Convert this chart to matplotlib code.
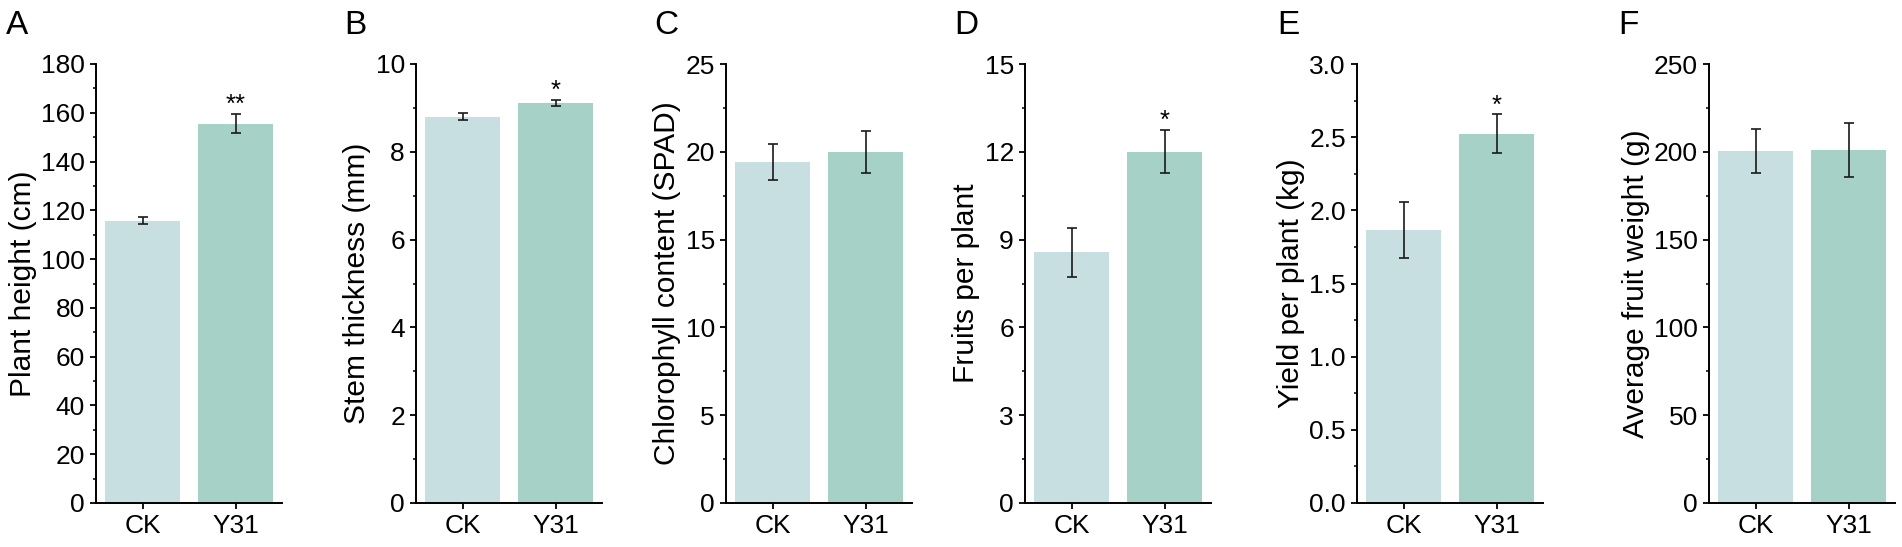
import matplotlib
matplotlib.use("Agg")
import matplotlib.pyplot as plt
from matplotlib.ticker import AutoMinorLocator

plt.rcParams['font.family'] = ['Liberation Sans', 'DejaVu Sans']

groups = ["CK", "Y31"]
colors = ["#C8DFE1", "#A5D1C6"]

panel_letters = ["A", "B", "C", "D", "E", "F"]
ylabels = ["Plant height (cm)", "Stem thickness (mm)", "Chlorophyll content (SPAD)",
           "Fruits per plant", "Yield per plant (kg)", "Average fruit weight (g)"]
ymax = [180, 10, 25, 15, 3.0, 250]
ystep = [20, 2, 5, 3, 0.5, 50]
ytick_fmt = ["{:.0f}", "{:.0f}", "{:.0f}", "{:.0f}", "{:.1f}", "{:.0f}"]

plant_height = [115.8, 155.6]
plant_height_err = [1.4, 4.0]
stem_thickness = [8.80, 9.11]
stem_thickness_err = [0.08, 0.06]
chlorophyll = [19.42, 19.98]
chlorophyll_err = [1.02, 1.18]
fruits = [8.57, 12.0]
fruits_err = [0.84, 0.73]
yield_kg = [1.866, 2.525]
yield_kg_err = [0.19, 0.13]
fruit_weight = [200.3, 200.9]
fruit_weight_err = [12.5, 15.5]

means = [plant_height, stem_thickness, chlorophyll, fruits, yield_kg, fruit_weight]
errs = [plant_height_err, stem_thickness_err, chlorophyll_err, fruits_err, yield_kg_err, fruit_weight_err]
stars = [["", "**"], ["", "*"], ["", ""], ["", "*"], ["", "*"], ["", ""]]

W, H = 1902, 547
fig = plt.figure(figsize=(W / 100, H / 100), dpi=100)

ax_left_px = [96, 416, 726, 1025, 1357, 1709]
ax_w_px = 186
ax_top_px, ax_bot_px = 64, 503
letter_x_px = [6, 344, 654, 954, 1277, 1618]

for i in range(6):
    ax = fig.add_axes([ax_left_px[i] / W, (H - ax_bot_px) / H, ax_w_px / W, (ax_bot_px - ax_top_px) / H])
    x = list(range(len(groups)))
    ax.bar(x, means[i], width=0.8, color=colors, zorder=1)
    ax.errorbar(x, means[i], yerr=errs[i], fmt='none', ecolor='#1a1a1a',
                elinewidth=1.2, capsize=3.6, capthick=1.2, zorder=2)
    for j in x:
        if stars[i][j]:
            ax.annotate(stars[i][j], xy=(j, means[i][j] + errs[i][j]), xytext=(0, 1.5),
                        textcoords='offset points', ha='center', va='baseline', fontsize=18.5)
    ax.set_xlim(-0.5, 1.5)
    ax.set_ylim(0, ymax[i])
    ax.set_xticks(x)
    ax.set_xticklabels(groups)
    n = int(round(ymax[i] / ystep[i]))
    yt = [k * ystep[i] for k in range(n + 1)]
    ax.set_yticks(yt)
    ax.set_yticklabels([ytick_fmt[i].format(v) for v in yt])
    ax.yaxis.set_minor_locator(AutoMinorLocator(2))
    for s in ['top', 'right']:
        ax.spines[s].set_visible(False)
    for s in ['left', 'bottom']:
        ax.spines[s].set_linewidth(1.4)
    ax.tick_params(axis='both', which='major', direction='out', length=4, width=1.3, labelsize=19, pad=4)
    ax.tick_params(axis='y', which='minor', direction='out', length=2.5, width=1.1)
    ax.set_ylabel(ylabels[i], fontsize=21.5, labelpad=3)
    fig.text(letter_x_px[i] / W, 1 - 34 / H, panel_letters[i], fontsize=24, ha='left', va='baseline')

fig.savefig("out.png", dpi=100)
